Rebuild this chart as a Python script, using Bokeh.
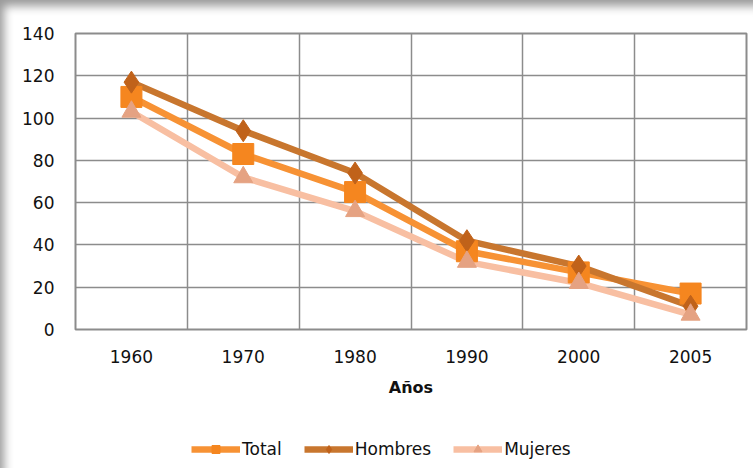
from bokeh.plotting import figure
from bokeh.layouts import column
from bokeh.models import FactorRange, Range1d, FixedTicker, Legend, LegendItem
from bokeh.embed import file_html
from bokeh.resources import INLINE

years = ["1960", "1970", "1980", "1990", "2000", "2005"]
total = [110, 83, 65, 37, 27, 17]
hombres = [117, 94, 74, 42, 30, 11]
mujeres = [103, 72, 56, 32, 22, 7]
y_ticks = [0, 20, 40, 60, 80, 100, 120, 140]
series_names = ["Total", "Hombres", "Mujeres"]

FONT = "DejaVu Sans"

p = figure(width=753, height=420, x_range=FactorRange(factors=years),
           y_range=Range1d(0, 140), output_backend="svg", toolbar_location=None,
           min_border_left=75, min_border_top=33, min_border_right=7,
           min_border_bottom=91, background_fill_color="white",
           border_fill_color=None)

p.outline_line_color = "#8c8c8c"
p.outline_line_width = 2

p.yaxis.ticker = FixedTicker(ticks=y_ticks)
p.ygrid.ticker = FixedTicker(ticks=y_ticks)
p.xgrid.ticker = FixedTicker(ticks=list(range(len(years) + 1)))
for g in (p.xgrid, p.ygrid):
    g.grid_line_color = "#8c8c8c"
    g.grid_line_width = 1.5

for ax in (p.xaxis, p.yaxis):
    ax.axis_line_color = None
    ax.major_tick_line_color = None
    ax.minor_tick_line_color = None
    ax.major_tick_out = 0
    ax.major_tick_in = 0
    ax.major_label_text_font = FONT
    ax.major_label_text_font_size = "17px"
    ax.major_label_text_color = "#111111"
p.yaxis.major_label_standoff = 21
p.xaxis.major_label_standoff = 20
p.xaxis.axis_label = "Años"
p.xaxis.axis_label_text_font = FONT
p.xaxis.axis_label_text_font_size = "16px"
p.xaxis.axis_label_text_font_style = "bold"
p.xaxis.axis_label_text_color = "#111111"
p.xaxis.axis_label_standoff = 12

line_cols = ["#F79234", "#C8762E", "#F8BFA2"]
mark_cols = ["#F5861F", "#C0621A", "#E5A282"]
markers = ["square", "diamond", "triangle"]
msizes = [21, 22, 19]
values = [total, hombres, mujeres]

for vals, lc in zip(values, line_cols):
    p.line(years, vals, line_color=lc, line_width=6.5)
for vals, mk, mc, ms in zip(values, markers, mark_cols, msizes):
    p.scatter(years, vals, marker=mk, size=ms, fill_color=mc, line_color=mc)

# legend strip below the chart (same series, drawn outside its visible range)
lg = figure(width=753, height=48, x_range=FactorRange(factors=years),
            y_range=Range1d(1000, 1001), x_axis_location=None, y_axis_location=None,
            output_backend="svg", toolbar_location=None, min_border=0,
            border_fill_color=None, background_fill_color=None, outline_line_color=None)
lg.grid.visible = False
items = []
for name, vals, lc, mk, mc in zip(series_names, values, line_cols, markers, mark_cols):
    r1 = lg.line(years, vals, line_color=lc, line_width=6.5)
    r2 = lg.scatter(years, vals, marker=mk, size=12, fill_color=mc, line_color=mc)
    items.append(LegendItem(label=name, renderers=[r1, r2]))
legend = Legend(items=items, orientation="horizontal", location=(116, 9))
legend.border_line_color = None
legend.background_fill_alpha = 0
legend.padding = 0
legend.margin = 0
legend.spacing = 22
legend.glyph_width = 49
legend.glyph_height = 20
legend.label_standoff = 2
legend.label_text_font = FONT
legend.label_text_font_size = "17px"
legend.label_text_color = "#111111"
lg.add_layout(legend, "center")

layout = column(p, lg, spacing=0)
layout.styles = {"box-shadow": "inset 7px 9px 10px -3px rgba(0,0,0,0.4)",
                 "background-color": "white"}

open("out.html", "w").write(file_html(layout, INLINE))
